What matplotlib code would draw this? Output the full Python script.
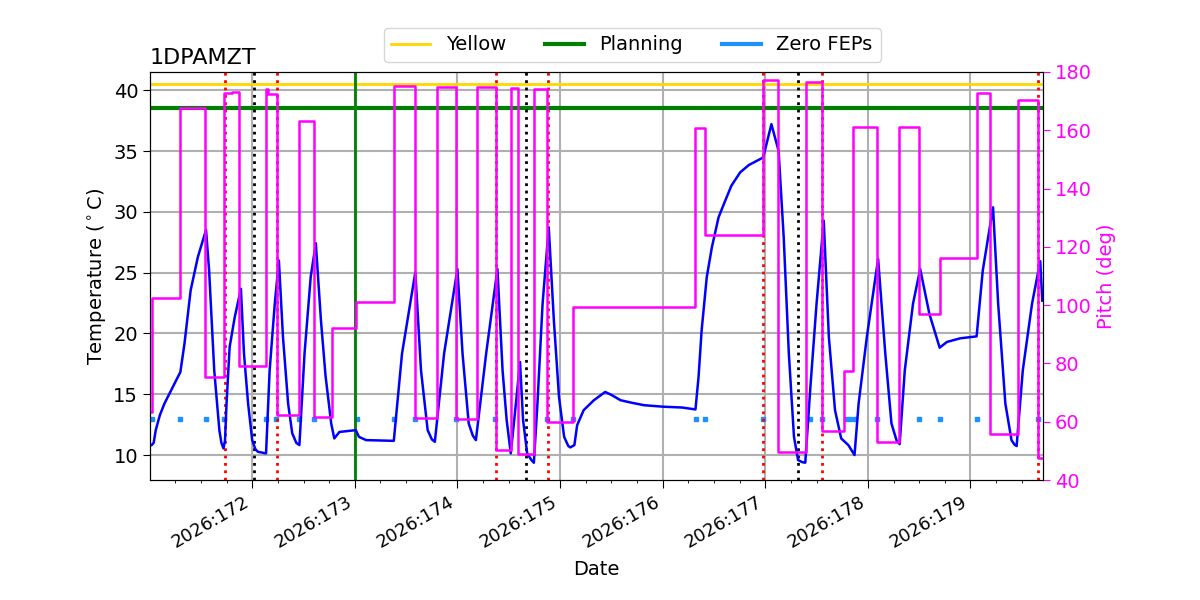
import matplotlib
matplotlib.use('Agg')
import matplotlib.pyplot as plt
from matplotlib.lines import Line2D
from matplotlib.ticker import MultipleLocator, FuncFormatter

plt.rcParams['font.size'] = 14

# Temperature trace (day of year 2026, degC)
temp_days = [171.00, 171.02, 171.04, 171.06, 171.10, 171.145, 171.21, 171.30, 171.34, 171.40,
             171.47, 171.55, 171.58, 171.63, 171.68, 171.70, 171.72, 171.735, 171.75, 171.78,
             171.83, 171.89, 171.92, 171.96, 172.00, 172.03, 172.055, 172.135, 172.17, 172.22,
             172.26, 172.30, 172.35, 172.39, 172.43, 172.46, 172.51, 172.57, 172.62, 172.67,
             172.715, 172.77, 172.80, 172.85, 173.01, 173.04, 173.11, 173.38, 173.46, 173.59,
             173.645, 173.71, 173.75, 173.78, 173.87, 174.00, 174.05, 174.11, 174.15, 174.18,
             174.28, 174.39, 174.44, 174.48, 174.52, 174.57, 174.61, 174.64, 174.68, 174.72,
             174.745, 174.78, 174.83, 174.89, 174.94, 174.99, 175.04, 175.08, 175.10, 175.14,
             175.167, 175.23, 175.33, 175.44, 175.50, 175.59, 175.70, 175.82, 176.00, 176.19,
             176.32, 176.35, 176.38, 176.43, 176.48, 176.545, 176.61, 176.67, 176.755, 176.84,
             176.92, 176.98, 177.06, 177.13, 177.18, 177.23, 177.28, 177.32, 177.36, 177.39,
             177.44, 177.50, 177.57, 177.62, 177.68, 177.74, 177.81, 177.87, 177.91, 177.99,
             178.10, 178.17, 178.23, 178.28, 178.31, 178.36, 178.44, 178.51, 178.60, 178.70,
             178.77, 178.90, 179.06, 179.12, 179.22, 179.27, 179.34, 179.40, 179.43, 179.45,
             179.51, 179.60, 179.68, 179.70]
temp_vals = [10.8, 10.82, 11.01, 12.05, 13.28, 14.24, 15.33, 16.83, 19.16, 23.54,
             26.27, 28.52, 25.18, 16.97, 12.05, 11.0, 10.55, 11.2, 14.24, 18.88,
             21.35, 23.67, 18.34, 14.24, 11.23, 10.5, 10.27, 10.14, 16.97, 22.44,
             26.0, 19.7, 14.24, 11.8, 11.0, 10.82, 18.34, 24.63, 27.42, 21.07,
             16.5, 12.6, 11.37, 11.9, 12.05, 11.5, 11.23, 11.17, 18.34, 25.04,
             16.97, 12.05, 11.3, 11.09, 18.34, 25.3, 18.34, 12.6, 11.6, 11.23,
             18.34, 25.3, 16.97, 12.87, 10.14, 14.24, 17.65, 12.87, 10.14, 9.6,
             9.37, 14.24, 22.44, 28.73, 21.07, 14.78, 11.5, 10.75, 10.63, 10.82,
             12.46, 13.69, 14.51, 15.19, 14.95, 14.51, 14.3, 14.1, 13.98, 13.91,
             13.75, 16.42, 20.25, 24.63, 27.09, 29.55, 30.92, 32.15, 33.24, 33.85,
             34.2, 34.47, 37.21, 35.02, 27.9, 18.34, 11.5, 9.59, 9.42, 9.37,
             15.6, 22.44, 29.28, 19.7, 13.69, 11.37, 10.82, 10.0, 14.24, 19.7,
             26.14, 18.34, 12.6, 11.2, 10.9, 16.97, 22.44, 25.3, 21.6, 18.83,
             19.3, 19.6, 19.76, 25.18, 30.37, 22.44, 14.24, 11.23, 10.85, 10.74,
             16.97, 22.44, 25.94, 22.7]

# Pitch (deg), held until the next time
pitch_days = [171.00, 171.02, 171.30, 171.54, 171.73, 171.80, 171.87, 172.135, 172.15, 172.24,
              172.46, 172.60, 172.78, 173.01, 173.38, 173.59, 173.80, 173.99, 174.19, 174.38,
              174.52, 174.59, 174.75, 174.87, 175.13, 176.32, 176.41, 176.98, 177.12, 177.40,
              177.55, 177.77, 177.86, 178.085, 178.305, 178.50, 178.70, 179.06, 179.19, 179.46,
              179.66, 179.72]
pitch_vals = [63.4, 102.5, 167.5, 75.2, 172.7, 173.3, 79.1, 174.1, 172.6, 62.3,
              163.3, 61.7, 92.3, 101.0, 175.3, 61.2, 174.9, 60.8, 174.7, 50.3,
              174.4, 49.0, 174.2, 60.0, 99.3, 160.7, 124.0, 177.2, 49.7, 176.7,
              56.9, 77.4, 161.0, 52.9, 161.2, 96.8, 116.3, 172.9, 55.8, 170.4,
              47.4, 47.4]

# Zero FEPs markers
fep_days = [171.02, 171.30, 171.55, 171.73, 172.13, 172.23, 172.46, 172.60, 173.02, 173.38,
            173.59, 173.99, 174.37, 174.87, 175.13, 176.33, 176.41, 176.98, 177.44, 177.55,
            177.79, 177.83, 177.87, 178.085, 178.50, 178.70, 179.06, 179.66]
fep_level = 13.0

yellow_limit = 40.5
planning_limit = 38.5
planning_day = 173.0
red_days = [171.736, 172.243, 174.377, 174.884, 176.98, 177.555, 179.66]
black_days = [172.019, 174.673, 177.315]

fig = plt.figure(figsize=(12, 6), dpi=100)
ax = fig.add_axes([0.125, 0.2, 0.744, 0.68])

ax.plot(temp_days, temp_vals, color='blue', lw=1.8, zorder=3)
ax.plot(fep_days, [fep_level] * len(fep_days), 's', color='dodgerblue', ms=3, zorder=2)
ax.axhline(yellow_limit, color='gold', lw=2, zorder=2)
ax.axhline(planning_limit, color='green', lw=3, zorder=2)
ax.axvline(planning_day, color='green', lw=2, zorder=2)
for d in red_days:
    ax.axvline(d, color='red', ls=':', lw=2, zorder=2)
for d in black_days:
    ax.axvline(d, color='black', ls=':', lw=2, zorder=2)

ax.set_xlim(171.004, 179.705)
ax.set_ylim(7.95, 41.5)
ax.xaxis.set_major_locator(MultipleLocator(1))
ax.xaxis.set_minor_locator(MultipleLocator(0.25))
ax.xaxis.set_major_formatter(FuncFormatter(lambda v, p: f'2026:{int(round(v)):03d}'))
ax.tick_params(axis='x', which='major', length=6, labelsize=13)
ax.tick_params(axis='y', which='major', length=5)
plt.setp(ax.get_xticklabels(), rotation=30, ha='right')
ax.set_yticks([10, 15, 20, 25, 30, 35, 40])
ax.grid(True, color='#b0b0b0', lw=1.5)
ax.set_axisbelow(True)
ax.set_xlabel('Date', labelpad=6)
ax.set_ylabel(r'Temperature ($^\circ$C)')
ax.set_title('1DPAMZT', loc='left', fontsize=16)

ax2 = ax.twinx()
ax2.plot(pitch_days, pitch_vals, color='magenta', lw=1.8, drawstyle='steps-post')
ax2.set_ylim(40, 180)
ax2.set_ylabel('Pitch (deg)', color='magenta')
ax2.tick_params(axis='y', colors='magenta', length=5)

handles = [Line2D([], [], color='gold', lw=2),
           Line2D([], [], color='green', lw=3),
           Line2D([], [], color='dodgerblue', lw=3)]
ax.legend(handles, ['Yellow', 'Planning', 'Zero FEPs'], ncol=3,
          loc='lower center', bbox_to_anchor=(0.54, 1.0), fontsize=14)

fig.savefig('out.png', dpi=100)
